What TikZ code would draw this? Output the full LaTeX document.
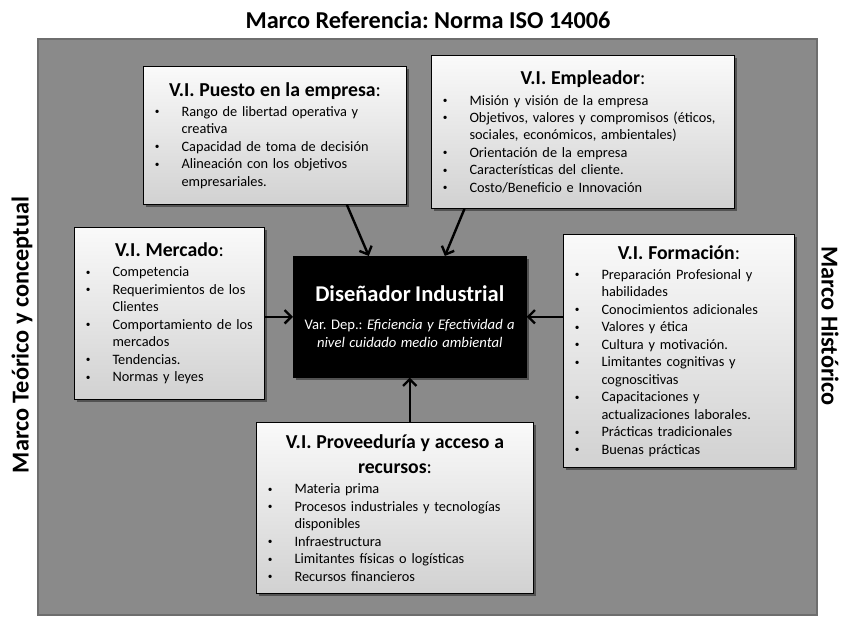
\documentclass[tikz,border=0pt]{standalone}
\usepackage{fontspec}
\setmainfont{Carlito}
\usetikzlibrary{arrows.meta,shadows,calc}
\definecolor{frameg}{HTML}{8A8A8A}
\definecolor{frameb}{HTML}{6E6E6E}
\frenchspacing
\hfuzz=20pt
\newcommand{\hdr}[1]{{\centering\fontsize{14.8}{18}\selectfont\bfseries #1\mdseries:\par}\vspace{2pt}}
\newcommand{\bmark}{\makebox[20.5pt][l]{\hspace{0.5pt}\raisebox{1.2pt}{\fontsize{7}{7}\selectfont\textbullet}}}
\newcommand{\bi}[1]{\par\hangindent=20.5pt\hangafter=1\noindent\bmark\mbox{#1}\par}
\newcommand{\bii}[2]{\par\hangindent=20.5pt\hangafter=1\noindent\bmark\mbox{#1}\newline\mbox{#2}\par}
\tikzset{
  vbox/.style={draw=black, line width=0.75pt, top color=gray!4, bottom color=gray!36,
    drop shadow={shadow xshift=2pt, shadow yshift=-2pt, fill=black, opacity=0.4},
    anchor=north west, align=left, inner xsep=8pt, inner ysep=2pt,
    font=\fontsize{10.75}{13.1}\selectfont},
  arr/.style={line width=1.8pt, -{Straight Barb[length=5pt,width=10pt,line width=1.8pt]}},
  side/.style={font=\fontsize{18.2}{22}\selectfont\bfseries}
}
\begin{document}
\begin{tikzpicture}[x=0.75pt,y=-0.75pt]
\useasboundingbox (0,0) rectangle (857,618);
\fill[white] (0,0) rectangle (857,618);
\draw[fill=frameg, draw=frameb, line width=1pt] (38,39) rectangle (817,615);
\node[side] (titulo) at (428,20) {Marco Referencia: Norma ISO 14006};
\node[side, rotate=90] (teorico) at (22,335) {Marco Teórico y conceptual};
\node[side, rotate=-90] (historico) at (830,326) {Marco Histórico};

\node[vbox, text width=181.25pt, minimum height=103.5pt] (puesto) at (143,66) {%
\hdr{V.I. Puesto en la empresa}%
\bii{Rango de libertad operativa y}{creativa}%
\bi{Capacidad de toma de decisión}%
\bii{Alineación con los objetivos}{empresariales.}};

\node[vbox, text width=211.25pt, minimum height=114.75pt] (empleador) at (431,55) {%
\hdr{V.I. Empleador}%
\bi{Misión y visión de la empresa}%
\bii{Objetivos, valores y compromisos (éticos,}{sociales, económicos, ambientales)}%
\bi{Orientación de la empresa}%
\bi{Características del cliente.}%
\bi{Costo/Beneficio e Innovación}};

\node[vbox, text width=126.5pt, minimum height=129pt] (mercado) at (74,227) {%
\hdr{V.I. Mercado}%
\bi{Competencia}%
\bii{Requerimientos de los}{Clientes}%
\bii{Comportamiento de los}{mercados}%
\bi{Tendencias.}%
\bi{Normas y leyes}};

\node[vbox, text width=157.25pt, minimum height=174.75pt] (formacion) at (563,234) {%
\hdr{V.I. Formación}%
\bii{Preparación Profesional y}{habilidades}%
\bi{Conocimientos adicionales}%
\bi{Valores y ética}%
\bi{Cultura y motivación.}%
\bii{Limitantes cognitivas y}{cognoscitivas}%
\bii{Capacitaciones y}{actualizaciones laborales.}%
\bi{Prácticas tradicionales}%
\bi{Buenas prácticas}};

\node[vbox, text width=191.75pt, minimum height=128.25pt] (proveeduria) at (256,422) {%
{\centering\fontsize{14.8}{19}\selectfont\bfseries V.I. Proveeduría y acceso a\\recursos\mdseries:\par}\vspace{2pt}%
\bi{Materia prima}%
\bii{Procesos industriales y tecnologías}{disponibles}%
\bi{Infraestructura}%
\bi{Limitantes físicas o logísticas}%
\bi{Recursos financieros}};

\node[fill=black, draw=black, text=white, anchor=north west, align=center,
  text width=170pt, minimum height=90.75pt, inner xsep=2.375pt,
  drop shadow={shadow xshift=2pt, shadow yshift=-2pt, fill=black, opacity=0.4}] (central) at (293,256) {%
{\fontsize{16.9}{20}\selectfont\bfseries Diseñador Industrial\par}\vspace{7pt}%
{\fontsize{11}{14}\selectfont Var. Dep.: \itshape Eficiencia y Efectividad a\\nivel cuidado medio ambiental\par}};

\draw[arr] (puesto.-44.4) -- (central.124.4);
\draw[arr] (empleador.213.3) -- (central.60.3);
\draw[arr] (mercado.east |- central.west) -- (central.west);
\draw[arr] (formacion.west |- central.east) -- (central.east);
\draw[arr] (proveeduria.north -| central.south) -- (central.south);
\end{tikzpicture}
\end{document}
